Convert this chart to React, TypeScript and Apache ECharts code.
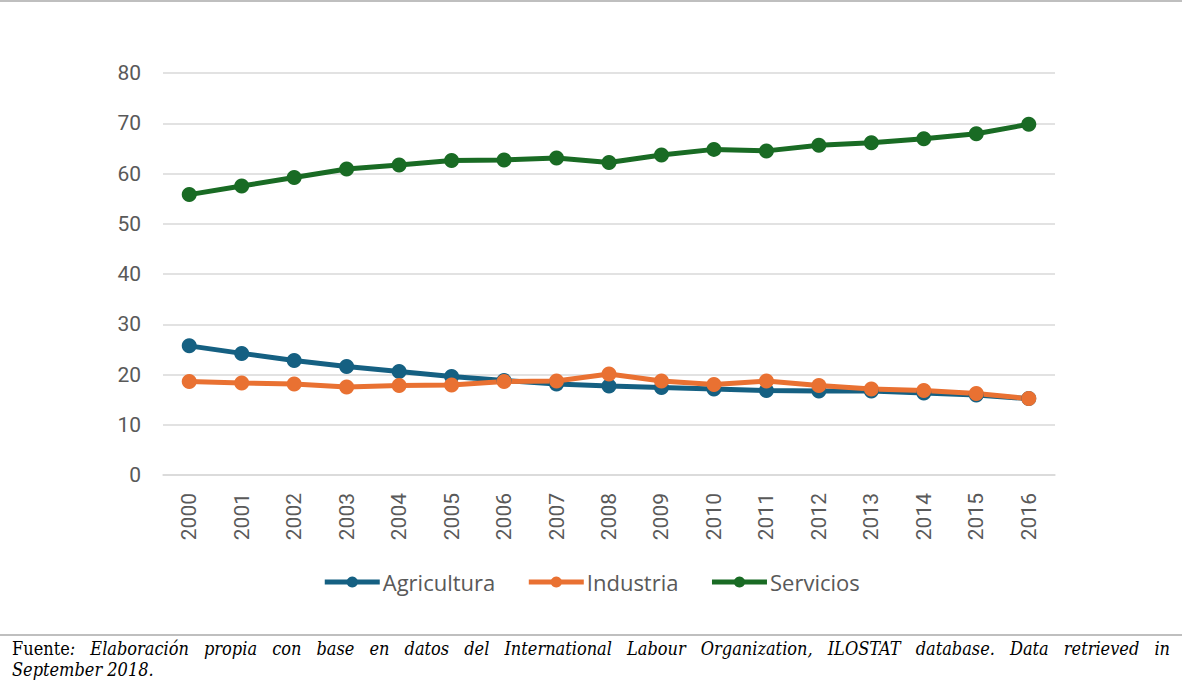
import React, { useEffect, useRef } from "react";
import * as echarts from "echarts";

const years = ["2000","2001","2002","2003","2004","2005","2006","2007","2008","2009","2010","2011","2012","2013","2014","2015","2016"];
const agricultura = [25.7, 24.2, 22.8, 21.6, 20.6, 19.6, 18.8, 18.1, 17.7, 17.4, 17.1, 16.8, 16.7, 16.7, 16.3, 15.9, 15.2];
const industria = [18.6, 18.3, 18.1, 17.5, 17.8, 17.9, 18.6, 18.7, 20.1, 18.7, 18.0, 18.7, 17.8, 17.1, 16.8, 16.2, 15.2];
const servicios = [55.8, 57.5, 59.2, 60.9, 61.7, 62.6, 62.7, 63.1, 62.2, 63.7, 64.8, 64.5, 65.6, 66.1, 66.9, 67.9, 69.8];
const seriesNames = ["Agricultura", "Industria", "Servicios"];
const seriesColors = ["#156082", "#E97132", "#196B24"];
const footerLead = "Fuente";
const footerLine1 = ": Elaboración propia con base en datos del International Labour Organization, ILOSTAT database. Data retrieved in";
const footerLine2 = "September 2018.";

const SANS = "Roboto, 'Open Sans', sans-serif";
const LEGEND_FONT = "'Open Sans', Roboto, sans-serif";
const SERIF = "'DejaVu Serif Condensed', 'DejaVu Serif', serif";
const FS = 18;

export default function App() {
  const ref = useRef<HTMLDivElement>(null);
  useEffect(() => {
    document.body.style.margin = "0";
    const chart = echarts.init(ref.current!, null, { renderer: "svg" });

    const cv = document.createElement("canvas");
    const ctx = cv.getContext("2d")!;
    const meas = (t: string, italic: boolean) => {
      ctx.font = `${italic ? "italic " : ""}${FS}px ${SERIF}`;
      return ctx.measureText(t).width;
    };
    const words = footerLine1.trim().split(" ");
    const tokens: { text: string; lead?: boolean; w: number }[] = [];
    tokens.push({ text: words[0], lead: true, w: meas(footerLead, false) + meas(words[0], true) });
    for (let i = 1; i < words.length; i++) tokens.push({ text: words[i], w: meas(words[i], true) });
    const x0 = 12, x1 = 1170;
    const total = tokens.reduce((s, t) => s + t.w, 0);
    const gap = Math.max(3, (x1 - x0 - total) / (tokens.length - 1));
    const footerEls: any[] = [];
    let cx = x0;
    tokens.forEach((t) => {
      if (t.lead) {
        footerEls.push({
          type: "text", x: cx, y: 648,
          style: {
            text: `{n|${footerLead}}{i|${t.text}}`,
            verticalAlign: "middle",
            rich: {
              n: { fontFamily: SERIF, fontSize: FS, fill: "#000", fontStyle: "normal" },
              i: { fontFamily: SERIF, fontSize: FS, fill: "#000", fontStyle: "italic" },
            },
          },
        });
      } else {
        footerEls.push({
          type: "text", x: cx, y: 648,
          style: { text: t.text, fontFamily: SERIF, fontSize: FS, fontStyle: "italic", fill: "#000", verticalAlign: "middle" },
        });
      }
      cx += t.w + gap;
    });
    footerEls.push({
      type: "text", x: x0, y: 669,
      style: { text: footerLine2, fontFamily: SERIF, fontSize: FS, fontStyle: "italic", fill: "#000", verticalAlign: "middle" },
    });

    const data = [agricultura, industria, servicios];
    chart.setOption({
      animation: false,
      backgroundColor: "#ffffff",
      grid: { left: 163, right: 127, top: 73, bottom: 206, containLabel: false, outerBoundsMode: "none" },
      legend: {
        left: "center",
        top: 566,
        itemWidth: 55,
        itemHeight: 14,
        itemGap: 31,
        lineStyle: { width: 5 },
        textStyle: { color: "#595959", fontSize: 22, fontFamily: LEGEND_FONT, padding: [0, 0, 0, -2] },
        data: seriesNames,
      },
      xAxis: {
        type: "category",
        data: years,
        boundaryGap: true,
        axisLine: { lineStyle: { color: "#d9d9d9", width: 1.5 } },
        axisTick: { show: false },
        axisLabel: { rotate: 90, margin: 18, color: "#595959", fontSize: 21, fontFamily: SANS },
      },
      yAxis: {
        type: "value",
        min: 0,
        max: 80,
        interval: 10,
        axisLine: { show: false },
        axisTick: { show: false },
        splitLine: { lineStyle: { color: "#d9d9d9", width: 1.5 } },
        axisLabel: { margin: 22, color: "#595959", fontSize: 21, fontFamily: SANS },
      },
      series: seriesNames.map((n, i) => ({
        name: n,
        type: "line",
        data: data[i],
        color: seriesColors[i],
        symbol: "circle",
        symbolSize: 15,
        lineStyle: { width: 5, color: seriesColors[i] },
        itemStyle: { color: seriesColors[i] },
      })),
      graphic: [
        { type: "rect", shape: { x: 0, y: 0, width: 1182, height: 2 }, style: { fill: "#bfbfbf" }, silent: true },
        { type: "rect", shape: { x: 0, y: 634, width: 1182, height: 2 }, style: { fill: "#bfbfbf" }, silent: true },
        ...footerEls,
      ],
    });
    return () => chart.dispose();
  }, []);
  return <div ref={ref} style={{ width: 1182, height: 681 }} />;
}
